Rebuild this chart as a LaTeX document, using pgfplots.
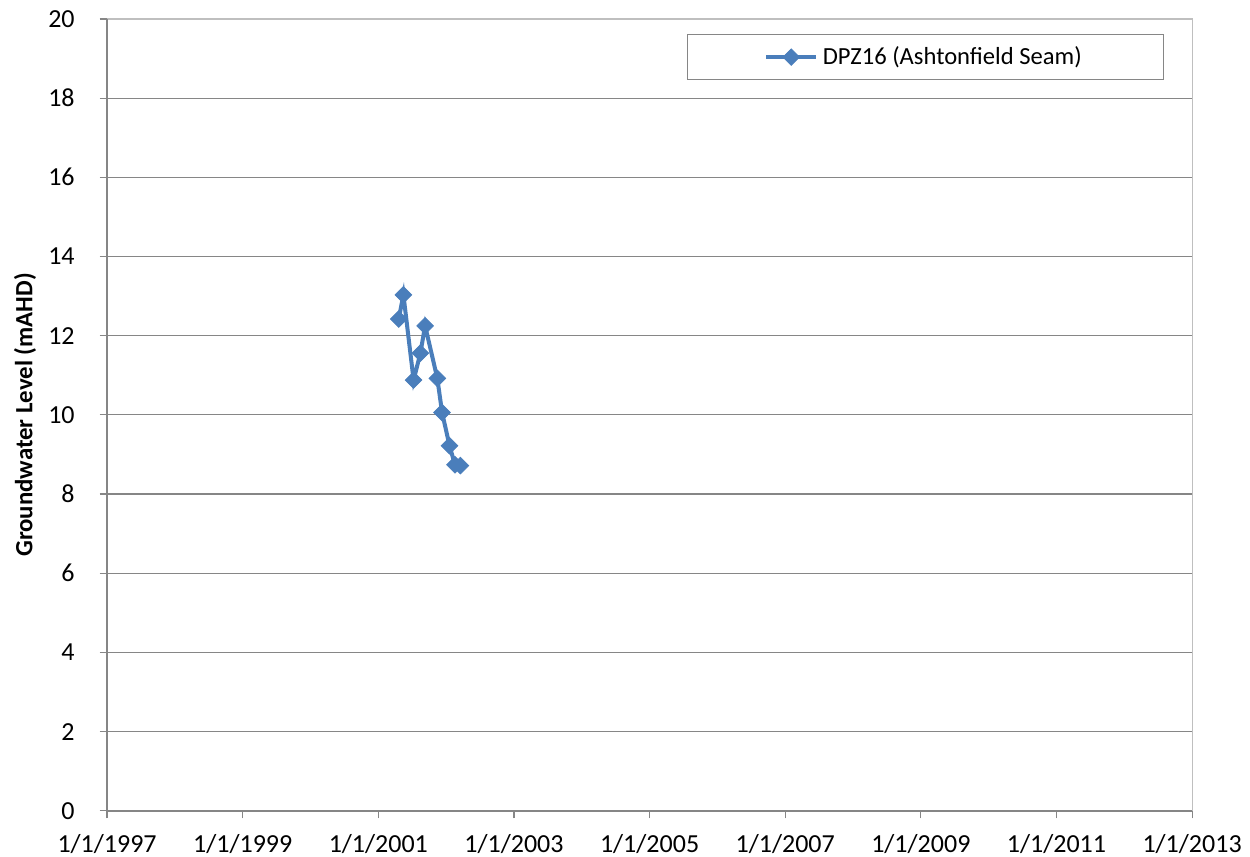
\documentclass[border=0pt]{standalone}
\usepackage{pgfplots}
\pgfplotsset{compat=1.18}
\usepackage{fontspec}
\setmainfont{Carlito}
\definecolor{series}{HTML}{4A7EBB}
\definecolor{gridc}{HTML}{868686}
\definecolor{borderc}{HTML}{BFBFBF}
\begin{document}
\begin{tikzpicture}
\begin{axis}[
  scale only axis,
  width=459pt, height=335pt,
  xmin=1997, xmax=2013,
  ymin=0, ymax=20,
  xtick={1997,1999,2001,2003,2005,2007,2009,2011,2013},
  xticklabels={1/1/1997,1/1/1999,1/1/2001,1/1/2003,1/1/2005,1/1/2007,1/1/2009,1/1/2011,1/1/2013},
  ytick={0,2,...,20},
  ymajorgrids,
  major grid style={gridc, line width=0.5pt},
  axis line style={draw=none},
  tick style={gridc, line width=0.5pt},
  tick align=outside,
  major tick length=3.2pt,
  xtick pos=bottom, ytick pos=left,
  /pgf/number format/assume math mode=true,
  font=\fontsize{11}{13}\selectfont,
  ticklabel style={font=\fontsize{11}{13}\selectfont, text=black},
  xticklabel style={yshift=-3.3pt},
  yticklabel style={xshift=-7pt},
  ylabel={\textbf{Groundwater Level (mAHD)}},
  ylabel style={at={(axis description cs:-0.0756,0.5)}, anchor=center, font=\fontsize{10.5}{12}\selectfont},
  legend style={at={(rel axis cs:0.974,0.981)}, anchor=north east, draw=gridc, line width=0.5pt,
    inner xsep=32.5pt, inner ysep=3pt, font=\fontsize{10.4}{12}\selectfont},
  legend cell align=left,
  legend image code/.code={\draw[mark repeat=2,mark phase=2,#1] plot coordinates {(0pt,0pt)(10.5pt,0pt)(21pt,0pt)};},
  clip=false,
]
% plot area border
\draw[borderc, line width=0.5pt] (rel axis cs:0,1) -- (rel axis cs:1,1) -- (rel axis cs:1,0);
\draw[gridc, line width=0.6pt] (rel axis cs:0,1) -- (rel axis cs:0,0) -- (rel axis cs:1,0);
\addplot[series, line width=1.7pt, mark=square*, mark size=2.5pt,
  mark options={rotate=45, fill=series, draw=series, line width=0.3pt}]
  coordinates {
  (2001.30,12.42)
  (2001.37,13.03)
  (2001.52,10.88)
  (2001.62,11.56)
  (2001.69,12.25)
  (2001.87,10.92)
  (2001.94,10.06)
  (2002.05,9.22)
  (2002.13,8.74)
  (2002.21,8.72)
  };
\addlegendentry{DPZ16 (Ashtonfield Seam)}
\end{axis}
\pgfresetboundingbox
\path[use as bounding box] (-45.3pt,-19.5pt) rectangle (483.5pt,343.0pt);
\end{tikzpicture}
\end{document}
